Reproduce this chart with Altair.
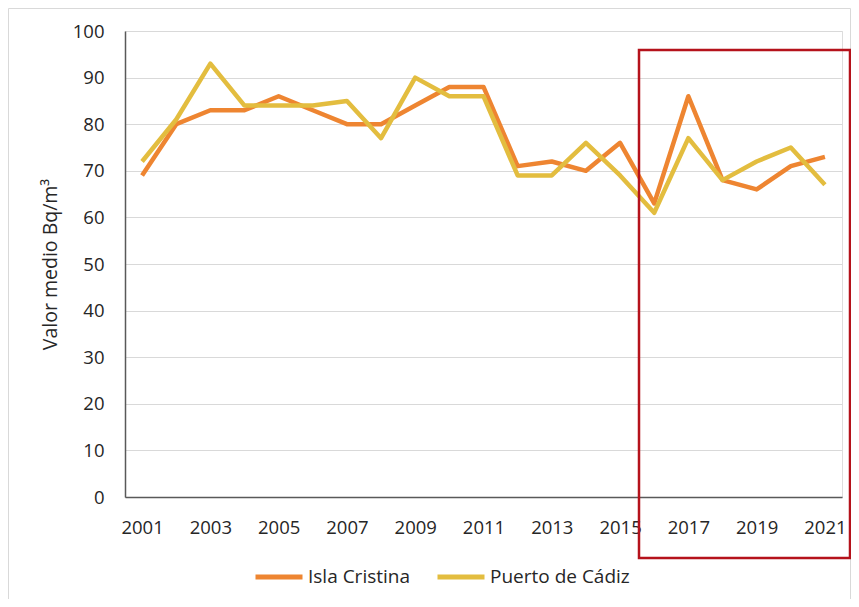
import altair as alt
import pandas as pd

years = [str(y) for y in range(2001, 2022)]
isla_cristina = [69, 80, 83, 83, 86, 83, 80, 80, 84, 88, 88, 71, 72, 70, 76, 63, 86, 68, 66, 71, 73]
puerto_cadiz = [72, 81, 93, 84, 84, 84, 85, 77, 90, 86, 86, 69, 69, 76, 69, 61, 77, 68, 72, 75, 67]
series_names = ["Isla Cristina", "Puerto de Cádiz"]
series_colors = ["#EE8531", "#E3BD3F"]
tick_years = [str(y) for y in range(2001, 2022, 2)]

rows = []
for y, v in zip(years, isla_cristina):
    rows.append({"Año": y, "Serie": series_names[0], "Valor": v})
for y, v in zip(years, puerto_cadiz):
    rows.append({"Año": y, "Serie": series_names[1], "Valor": v})
df = pd.DataFrame(rows)

FONT = "Open Sans"
TXT = "#262626"

lines = alt.Chart(df).mark_line(strokeWidth=4.5, strokeJoin="round").encode(
    x=alt.X("Año:O", sort=years,
            scale=alt.Scale(paddingInner=0, paddingOuter=0.5),
            axis=alt.Axis(values=tick_years, labelAngle=0, ticks=False, tickSize=0,
                          labelPadding=21, domainColor="#595959", domainWidth=1.5,
                          grid=False, title=None, labelFont=FONT, labelFontSize=18.5,
                          labelColor=TXT)),
    y=alt.Y("Valor:Q", scale=alt.Scale(domain=[0, 100], nice=False),
            axis=alt.Axis(values=list(range(0, 101, 10)), ticks=False, tickSize=0,
                          labelPadding=21, domainColor="#595959", domainWidth=1.5,
                          gridColor="#D9D9D9", gridWidth=1,
                          title="Valor medio Bq/m³", titleFont=FONT, titleFontSize=19.5,
                          titleFontWeight="normal", titleColor=TXT, titlePadding=12,
                          labelFont=FONT, labelFontSize=18.5, labelColor=TXT)),
    color=alt.Color("Serie:N", sort=series_names,
                    scale=alt.Scale(domain=series_names, range=series_colors),
                    legend=alt.Legend(orient="none", legendX=128, legendY=520,
                                      direction="horizontal", title=None,
                                      symbolType="stroke", symbolSize=2209,
                                      symbolStrokeWidth=5, labelOffset=3,
                                      columnPadding=16, padding=0,
                                      labelFont=FONT, labelFontSize=19,
                                      labelColor=TXT)),
    order=alt.Order("Serie:N"),
)

# red highlight box (annotation, pixel-positioned)
box = alt.Chart(pd.DataFrame({"k": [0]})).mark_rect(
    fill=None, stroke="#B5121B", strokeWidth=2.5, clip=False
).encode(x=alt.value(514), x2=alt.value(725), y=alt.value(19), y2=alt.value(527))

# outer light border of the chart area
border = alt.Chart(pd.DataFrame({"k": [0]})).mark_rect(
    fill=None, stroke="#D9D9D9", strokeWidth=1, clip=False
).encode(x=alt.value(-116.5), x2=alt.value(725.5), y=alt.value(-22.5), y2=alt.value(570))

chart = alt.layer(border, lines, box).properties(
    width=717, height=466,
    autosize=alt.AutoSizeParams(type="none"),
    padding={"left": 117, "top": 23, "right": 9, "bottom": 102},
).configure_view(stroke=None).configure(background="white")

chart.save("out.html", embed_options={"renderer": "svg", "actions": False})
